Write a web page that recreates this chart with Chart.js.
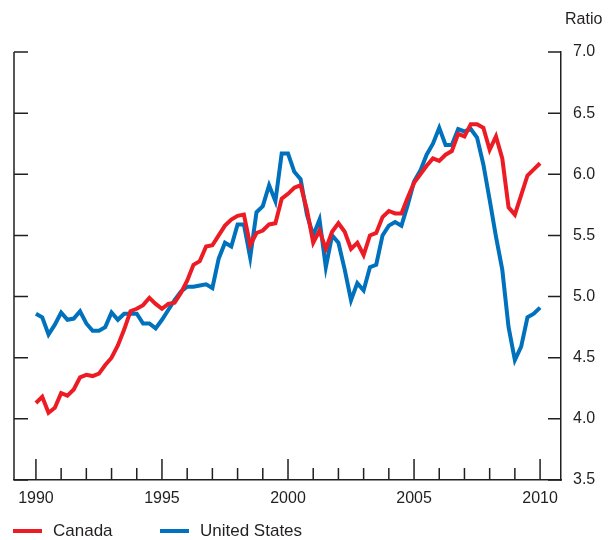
<!DOCTYPE html>
<html>
<head>
<meta charset="utf-8">
<script src="https://cdn.jsdelivr.net/npm/chart.js@4.4.0/dist/chart.umd.min.js"></script>
<style>
  html, body { margin: 0; padding: 0; background: #fff; }
  #wrap { position: relative; width: 609px; height: 540px; }
  .lbl { position: absolute; font-family: "Liberation Sans", Arial, sans-serif; font-size: 16px; color: #231f20; white-space: nowrap; }
  .key { position: absolute; height: 4px; width: 29px; }
</style>
</head>
<body>
<div id="wrap">
  <canvas id="ratioChart" width="609" height="540"></canvas>
  <div class="lbl" style="left:565px; top:10px;">Ratio</div>
  <div class="key" style="left:13px; top:529px; background:#ed1c24;"></div>
  <div class="lbl" style="left:53px; top:521px; font-size:17px;">Canada</div>
  <div class="key" style="left:160px; top:529px; background:#0071bc;"></div>
  <div class="lbl" style="left:200px; top:521px; font-size:17px;">United States</div>
</div>
<script>
// quarterly, 1990Q1 - 2010Q1
const startYear = 1990;
const canada = [
  4.13, 4.18, 4.05, 4.09, 4.21, 4.19, 4.24, 4.34, 4.36, 4.35,
  4.37, 4.44, 4.50, 4.60, 4.73, 4.88, 4.90, 4.93, 4.99, 4.94,
  4.90, 4.94, 4.95, 5.03, 5.13, 5.26, 5.29, 5.41, 5.42, 5.50,
  5.58, 5.63, 5.66, 5.67, 5.42, 5.52, 5.54, 5.59, 5.60, 5.80,
  5.84, 5.89, 5.91, 5.71, 5.44, 5.54, 5.39, 5.53, 5.60, 5.53,
  5.39, 5.44, 5.34, 5.50, 5.52, 5.65, 5.70, 5.68, 5.68, 5.81,
  5.93, 6.00, 6.07, 6.13, 6.11, 6.16, 6.19, 6.33, 6.31, 6.41,
  6.41, 6.38, 6.20, 6.31, 6.13, 5.73, 5.67, 5.83, 5.99, 6.04,
  6.09
];
const unitedStates = [
  4.86, 4.83, 4.69, 4.77, 4.87, 4.81, 4.82, 4.88, 4.78, 4.72,
  4.72, 4.75, 4.87, 4.81, 4.86, 4.86, 4.86, 4.78, 4.78, 4.74,
  4.81, 4.89, 4.97, 5.04, 5.08, 5.08, 5.09, 5.10, 5.07, 5.31,
  5.44, 5.41, 5.59, 5.59, 5.32, 5.69, 5.74, 5.91, 5.78, 6.17,
  6.17, 6.02, 5.96, 5.67, 5.50, 5.63, 5.24, 5.50, 5.44, 5.22,
  4.97, 5.11, 5.05, 5.24, 5.26, 5.50, 5.58, 5.61, 5.58, 5.75,
  5.94, 6.03, 6.16, 6.25, 6.38, 6.24, 6.24, 6.37, 6.35, 6.37,
  6.30, 6.08, 5.79, 5.49, 5.22, 4.75, 4.48, 4.59, 4.83, 4.86,
  4.91
];
const yearTicks = [1990, 1995, 2000, 2005, 2010];
const ratioTicks = [3.5, 4.0, 4.5, 5.0, 5.5, 6.0, 6.5, 7.0];

const ink = '#231f20';
const toPoints = arr => arr.map((v, i) => ({ x: startYear + i / 4, y: v }));

// 안쪽으로 향하는 눈금 + 왼쪽 축선
const innerTicks = {
    id: 'innerTicks',
    afterDraw(chart) {
        const { ctx, chartArea: a, scales: { x, y } } = chart;
        ctx.save();
        ctx.strokeStyle = ink;
        ctx.lineWidth = 1.5;
        ctx.beginPath();
        ctx.moveTo(a.left, a.top);
        ctx.lineTo(a.left, a.bottom);
        ratioTicks.forEach(v => {
            const py = y.getPixelForValue(v);
            ctx.moveTo(a.left, py);
            ctx.lineTo(a.left + 14, py);
            ctx.moveTo(a.right, py);
            ctx.lineTo(a.right - 13, py);
        });
        for (let yr = 1990; yr <= 2010; yr++) {
            const px = x.getPixelForValue(yr);
            const len = yr % 5 === 0 ? 21 : 12;
            ctx.moveTo(px, a.bottom);
            ctx.lineTo(px, a.bottom - len);
        }
        ctx.stroke();
        ctx.restore();
    }
};

const ctx = document.getElementById('ratioChart').getContext('2d');
new Chart(ctx, {
    type: 'line',
    data: {
        datasets: [
            {
                label: 'Canada',
                data: toPoints(canada),
                borderColor: '#ed1c24',
                borderWidth: 4,
                pointRadius: 0,
                tension: 0
            },
            {
                label: 'United States',
                data: toPoints(unitedStates),
                borderColor: '#0071bc',
                borderWidth: 4,
                pointRadius: 0,
                tension: 0
            }
        ]
    },
    options: {
        responsive: false,
        animation: false,
        layout: { padding: { left: 14, top: 52, right: 0, bottom: 0 } },
        plugins: {
            legend: { display: false },
            tooltip: { enabled: false }
        },
        scales: {
            x: {
                type: 'linear',
                min: 1989.13,
                max: 2010.83,
                afterBuildTicks: s => { s.ticks = yearTicks.map(v => ({ value: v })); },
                afterFit: s => { s.height = 60; },
                grid: { display: false, drawTicks: false },
                border: { display: true, color: ink, width: 1.5 },
                ticks: {
                    padding: 9,
                    color: ink,
                    maxRotation: 0,
                    font: { family: 'Liberation Sans, Arial, sans-serif', size: 16 },
                    callback: v => String(v)
                }
            },
            y: {
                position: 'right',
                min: 3.5,
                max: 7.0,
                afterBuildTicks: s => { s.ticks = ratioTicks.map(v => ({ value: v })); },
                afterFit: s => { s.width = 48; },
                grid: { display: false, drawTicks: false },
                border: { display: true, color: ink, width: 1.5 },
                ticks: {
                    padding: 12,
                    color: ink,
                    font: { family: 'Liberation Sans, Arial, sans-serif', size: 16 },
                    callback: v => v.toFixed(1)
                }
            }
        }
    },
    plugins: [innerTicks]
});
</script>
</body>
</html>
